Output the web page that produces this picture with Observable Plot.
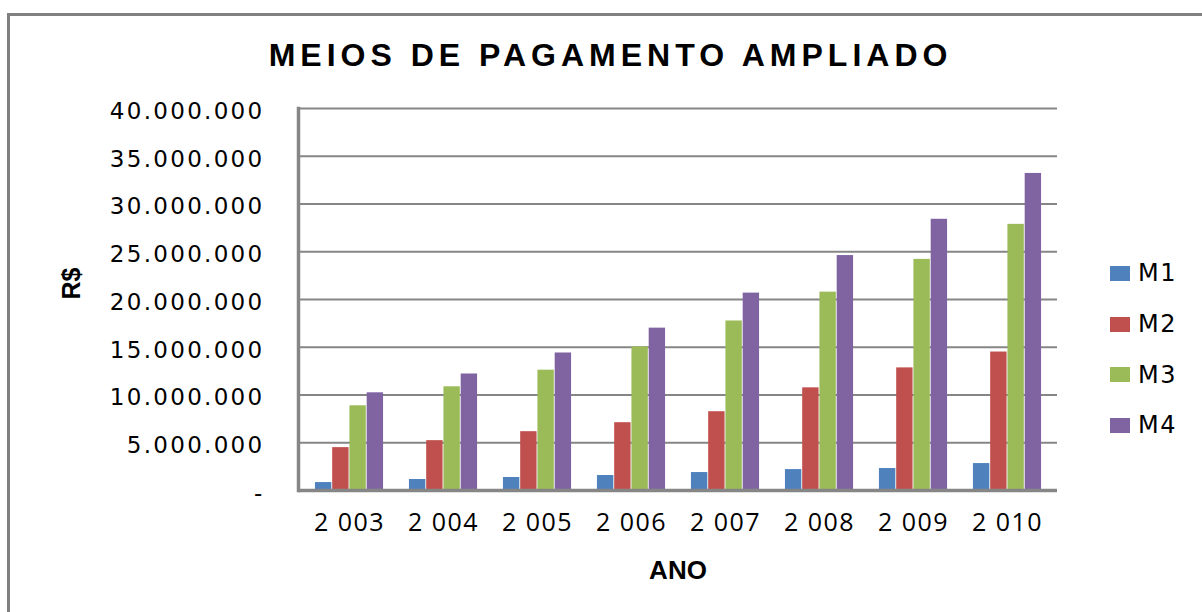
<!DOCTYPE html>
<html>
<head>
<meta charset="utf-8">
<script src="https://cdn.jsdelivr.net/npm/d3@7"></script>
<script src="https://cdn.jsdelivr.net/npm/@observablehq/plot@0.6"></script>
<style>
  html, body { margin: 0; padding: 0; background: #fff; }
  #wrap { position: relative; width: 1202px; height: 612px; overflow: hidden; }
  #border { position: absolute; left: 7px; top: 13px; width: 1200px; height: 600px;
            border-top: 3px solid #808080; border-left: 3px solid #808080; }
  #legend { position: absolute; left: 1110px; top: 248px; font-family: "DejaVu Sans", sans-serif;
            font-size: 24px; letter-spacing: 1.5px; color: #000; }
  .item { display: flex; align-items: center; height: 50.7px; margin: 0; }
  .sw { width: 20px; height: 15px; margin-right: 8px; }
  .chart g[aria-label="y-axis tick label"] text { letter-spacing: 2.3px; }
  .chart g[aria-label="x-axis tick label"] text { letter-spacing: 1.5px; }
</style>
</head>
<body>
<div id="wrap"><div id="border"></div><div id="legend"></div></div>
<script>
// ---- data ----
const years = ["2003", "2004", "2005", "2006", "2007", "2008", "2009", "2010"];
const yearLabels = ["2 003", "2 004", "2 005", "2 006", "2 007", "2 008", "2 009", "2 010"];
const seriesNames = ["M1", "M2", "M3", "M4"];
const M1 = [830000, 1150000, 1360000, 1570000, 1880000, 2190000, 2300000, 2820000];
const M2 = [4490000, 5220000, 6160000, 7100000, 8250000, 10750000, 12840000, 14500000];
const M3 = [8870000, 10860000, 12600000, 15030000, 17750000, 20770000, 24200000, 27870000];
const M4 = [10230000, 12200000, 14400000, 17000000, 20670000, 24600000, 28400000, 33200000];
const yTicks = [0, 5000000, 10000000, 15000000, 20000000, 25000000, 30000000, 35000000, 40000000];
const colors = ["#4F81BD", "#C0504D", "#9BBB59", "#8064A2"];
const title = "MEIOS DE PAGAMENTO AMPLIADO";
const yLabel = "R$";
const xLabel = "ANO";

const seriesValues = [M1, M2, M3, M4];
const table = seriesNames.map((s, j) => years.map((y, i) => ({year: y, series: s, value: seriesValues[j][i]})));

const ptFmt = d3.formatLocale({thousands: ".", grouping: [3], decimal: ","}).format(",");

// layout (styles)
const width = 1202, height = 612;
const mL = 298, mR = 145, mT = 108, mB = 122;
const band = (width - mL - mR) / years.length;
const barW = 17.25;
const side = (band - 4 * barW) / 2;
const titleSpacing = 5;

const barMarks = table.map((rows, j) => Plot.barY(rows, {
  x: "year", y: "value", fill: colors[j],
  insetLeft: side + barW * j, insetRight: side + barW * (3 - j)
}));

const chart = Plot.plot({
  width, height,
  marginLeft: mL, marginRight: mR, marginTop: mT, marginBottom: mB,
  className: "chart",
  style: {fontFamily: "DejaVu Sans, sans-serif", fontSize: "23px", color: "#000", background: "transparent", overflow: "visible"},
  x: {domain: years, padding: 0, label: null},
  y: {domain: [0, 40000000], label: null},
  marks: [
    Plot.gridY(yTicks.filter(d => d > 0), {stroke: "#868686", strokeOpacity: 1, strokeWidth: 2}),
    ...barMarks,
    Plot.ruleY([0], {stroke: "#868686", strokeWidth: 3.5}),
    Plot.frame({anchor: "left", stroke: "#868686", strokeWidth: 3.5}),
    Plot.axisY({ticks: yTicks, tickSize: 0, tickPadding: 34, label: null,
      tickFormat: d => d === 0 ? "-" : ptFmt(d), dy: 3, fontSize: 23}),
    Plot.axisX({tickSize: 0, tickPadding: 23, label: null,
      tickFormat: (d, i) => yearLabels[years.indexOf(d)],
      fontFamily: "Open Sans, sans-serif", fontSize: 25}),
    Plot.text([title], {frameAnchor: "top", dy: -53, dx: -title.length * titleSpacing / 2, lineAnchor: "middle",
      fontFamily: "Liberation Sans, Arial, sans-serif", fontWeight: "bold", fontSize: 32}),
    Plot.text([yLabel], {frameAnchor: "left", dx: -227, rotate: -90, lineAnchor: "middle",
      fontFamily: "Liberation Sans, Arial, sans-serif", fontWeight: "bold", fontSize: 25}),
    Plot.text([xLabel], {frameAnchor: "bottom", dy: 80, lineAnchor: "middle",
      fontFamily: "Liberation Sans, Arial, sans-serif", fontWeight: "bold", fontSize: 26})
  ]
});
chart.style.position = "absolute";
chart.style.left = "0px";
chart.style.top = "0px";
chart.querySelectorAll('g[aria-label="text"] text').forEach(t => {
  if (t.textContent === title) t.style.letterSpacing = titleSpacing + "px";
});
document.getElementById("wrap").appendChild(chart);

const legend = document.getElementById("legend");
seriesNames.forEach((s, j) => {
  const it = document.createElement("div");
  it.className = "item";
  const sw = document.createElement("div");
  sw.className = "sw";
  sw.style.background = colors[j];
  const t = document.createElement("span");
  t.textContent = s;
  it.appendChild(sw); it.appendChild(t);
  legend.appendChild(it);
});
</script>
</body>
</html>
